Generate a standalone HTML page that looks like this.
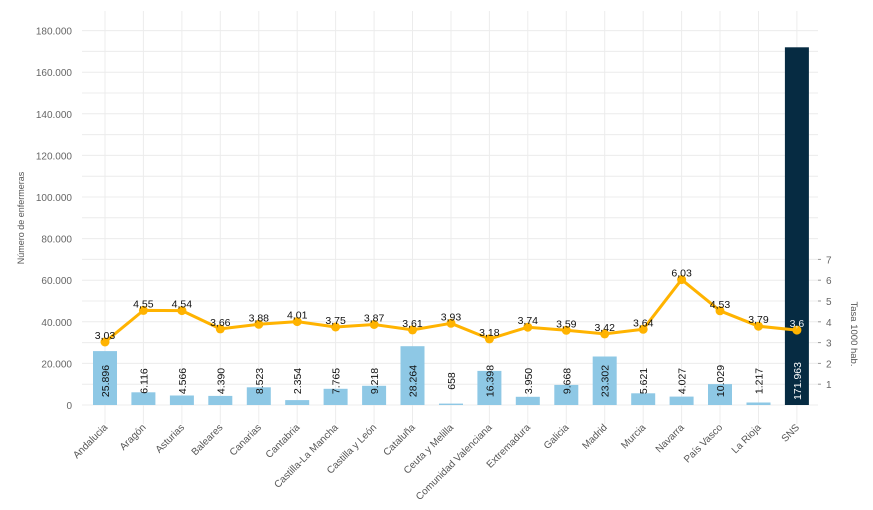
<!DOCTYPE html>
<html><head><meta charset="utf-8"><style>
html,body{margin:0;padding:0;background:#fff;}
svg{display:block;font-family:"Liberation Sans",sans-serif;}
.yl{font-size:10px;fill:#666;text-anchor:end;}
.xl{font-size:10px;fill:#555;text-anchor:end;}
.bl{font-size:10.5px;fill:#111;text-anchor:middle;}
.rl{font-size:10.5px;fill:#111;text-anchor:middle;}
</style></head><body>
<svg width="873" height="510" viewBox="0 0 873 510">
<g stroke="#ececec" stroke-width="1">
<line x1="82" x2="818" y1="405" y2="405"/><line x1="82" x2="818" y1="384.2" y2="384.2"/>
<line x1="82" x2="818" y1="363.4" y2="363.4"/><line x1="82" x2="818" y1="342.6" y2="342.6"/>
<line x1="82" x2="818" y1="321.8" y2="321.8"/><line x1="82" x2="818" y1="301" y2="301"/>
<line x1="82" x2="818" y1="280.2" y2="280.2"/><line x1="82" x2="818" y1="259.4" y2="259.4"/>
<line x1="82" x2="818" y1="238.6" y2="238.6"/><line x1="82" x2="818" y1="217.8" y2="217.8"/>
<line x1="82" x2="818" y1="197" y2="197"/><line x1="82" x2="818" y1="176.2" y2="176.2"/>
<line x1="82" x2="818" y1="155.4" y2="155.4"/><line x1="82" x2="818" y1="134.6" y2="134.6"/>
<line x1="82" x2="818" y1="113.8" y2="113.8"/><line x1="82" x2="818" y1="93" y2="93"/>
<line x1="82" x2="818" y1="72.2" y2="72.2"/><line x1="82" x2="818" y1="51.4" y2="51.4"/>
<line x1="82" x2="818" y1="30.6" y2="30.6"/>
<line x1="105" x2="105" y1="11" y2="424"/><line x1="143.4" x2="143.4" y1="11" y2="424"/>
<line x1="181.9" x2="181.9" y1="11" y2="424"/><line x1="220.3" x2="220.3" y1="11" y2="424"/>
<line x1="258.8" x2="258.8" y1="11" y2="424"/><line x1="297.2" x2="297.2" y1="11" y2="424"/>
<line x1="335.6" x2="335.6" y1="11" y2="424"/><line x1="374.1" x2="374.1" y1="11" y2="424"/>
<line x1="412.5" x2="412.5" y1="11" y2="424"/><line x1="451" x2="451" y1="11" y2="424"/>
<line x1="489.4" x2="489.4" y1="11" y2="424"/><line x1="527.8" x2="527.8" y1="11" y2="424"/>
<line x1="566.3" x2="566.3" y1="11" y2="424"/><line x1="604.7" x2="604.7" y1="11" y2="424"/>
<line x1="643.2" x2="643.2" y1="11" y2="424"/><line x1="681.6" x2="681.6" y1="11" y2="424"/>
<line x1="720" x2="720" y1="11" y2="424"/><line x1="758.5" x2="758.5" y1="11" y2="424"/>
<line x1="796.9" x2="796.9" y1="11" y2="424"/>
</g>
<g class="yl">
<text x="72" y="409">0</text><text x="72" y="367.4">20.000</text><text x="72" y="325.8">40.000</text>
<text x="72" y="284.2">60.000</text><text x="72" y="242.6">80.000</text><text x="72" y="201">100.000</text>
<text x="72" y="159.4">120.000</text><text x="72" y="117.8">140.000</text><text x="72" y="76.2">160.000</text>
<text x="72" y="34.6">180.000</text>
</g>
<text transform="translate(24,218) rotate(-90)" style="font-size:9px;fill:#555;text-anchor:middle">Número de enfermeras</text>
<g style="font-size:10px;fill:#666">
<text x="826" y="388">1</text><text x="826" y="367.4">2</text><text x="826" y="346.6">3</text>
<text x="826" y="325.8">4</text><text x="826" y="305">5</text><text x="826" y="284.2">6</text><text x="826" y="263.4">7</text>
</g>
<g stroke="#999" stroke-width="1">
<line x1="818" x2="821" y1="384.2" y2="384.2"/><line x1="818" x2="821" y1="363.4" y2="363.4"/>
<line x1="818" x2="821" y1="342.6" y2="342.6"/><line x1="818" x2="821" y1="321.8" y2="321.8"/>
<line x1="818" x2="821" y1="301" y2="301"/><line x1="818" x2="821" y1="280.2" y2="280.2"/>
<line x1="818" x2="821" y1="259.4" y2="259.4"/>
</g>
<text transform="translate(851,334) rotate(90)" style="font-size:9.5px;fill:#555;text-anchor:middle">Tasa 1000 hab.</text>
<g fill="#8ec8e5">
<rect x="93" y="351.1" width="24" height="53.9"/><rect x="131.4" y="392.3" width="24" height="12.7"/>
<rect x="169.9" y="395.5" width="24" height="9.5"/><rect x="208.3" y="395.9" width="24" height="9.1"/>
<rect x="246.8" y="387.3" width="24" height="17.7"/><rect x="285.2" y="400.1" width="24" height="4.9"/>
<rect x="323.6" y="388.8" width="24" height="16.2"/><rect x="362.1" y="385.8" width="24" height="19.2"/>
<rect x="400.5" y="346.2" width="24" height="58.8"/><rect x="439" y="403.6" width="24" height="1.4"/>
<rect x="477.4" y="370.9" width="24" height="34.1"/><rect x="515.8" y="396.8" width="24" height="8.2"/>
<rect x="554.3" y="384.9" width="24" height="20.1"/><rect x="592.7" y="356.5" width="24" height="48.5"/>
<rect x="631.2" y="393.3" width="24" height="11.7"/><rect x="669.6" y="396.6" width="24" height="8.4"/>
<rect x="708" y="384.1" width="24" height="20.9"/><rect x="746.5" y="402.5" width="24" height="2.5"/>
</g>
<rect x="784.9" y="47.3" width="24" height="357.7" fill="#062b42"/>
<g class="bl">
<text transform="translate(109,381) rotate(-90)">25.896</text>
<text transform="translate(147.4,381) rotate(-90)">6.116</text>
<text transform="translate(185.9,381) rotate(-90)">4.566</text>
<text transform="translate(224.3,381) rotate(-90)">4.390</text>
<text transform="translate(262.8,381) rotate(-90)">8.523</text>
<text transform="translate(301.2,381) rotate(-90)">2.354</text>
<text transform="translate(339.6,381) rotate(-90)">7.765</text>
<text transform="translate(378.1,381) rotate(-90)">9.218</text>
<text transform="translate(416.5,381) rotate(-90)">28.264</text>
<text transform="translate(455,381) rotate(-90)">658</text>
<text transform="translate(493.4,381) rotate(-90)">16.398</text>
<text transform="translate(531.8,381) rotate(-90)">3.950</text>
<text transform="translate(570.3,381) rotate(-90)">9.668</text>
<text transform="translate(608.7,381) rotate(-90)">23.302</text>
<text transform="translate(647.2,381) rotate(-90)">5.621</text>
<text transform="translate(685.6,381) rotate(-90)">4.027</text>
<text transform="translate(724,381) rotate(-90)">10.029</text>
<text transform="translate(762.5,381) rotate(-90)">1.217</text>
<text transform="translate(800.9,381) rotate(-90)" style="fill:#fff">171.963</text>
</g>
<polyline fill="none" stroke="#ffb300" stroke-width="3" stroke-linejoin="round" points="105,342 143.4,310.4 181.9,310.6 220.3,328.9 258.8,324.3 297.2,321.6 335.6,327 374.1,324.5 412.5,329.9 451,323.3 489.4,338.9 527.8,327.2 566.3,330.3 604.7,333.9 643.2,329.3 681.6,279.6 720,310.8 758.5,326.2 796.9,330.1"/>
<g fill="#ffb300">
<circle cx="105" cy="342" r="4.5"/><circle cx="143.4" cy="310.4" r="4.5"/><circle cx="181.9" cy="310.6" r="4.5"/>
<circle cx="220.3" cy="328.9" r="4.5"/><circle cx="258.8" cy="324.3" r="4.5"/><circle cx="297.2" cy="321.6" r="4.5"/>
<circle cx="335.6" cy="327" r="4.5"/><circle cx="374.1" cy="324.5" r="4.5"/><circle cx="412.5" cy="329.9" r="4.5"/>
<circle cx="451" cy="323.3" r="4.5"/><circle cx="489.4" cy="338.9" r="4.5"/><circle cx="527.8" cy="327.2" r="4.5"/>
<circle cx="566.3" cy="330.3" r="4.5"/><circle cx="604.7" cy="333.9" r="4.5"/><circle cx="643.2" cy="329.3" r="4.5"/>
<circle cx="681.6" cy="279.6" r="4.5"/><circle cx="720" cy="310.8" r="4.5"/><circle cx="758.5" cy="326.2" r="4.5"/>
<circle cx="796.9" cy="330.1" r="4.5"/>
</g>
<g class="rl">
<text x="105" y="339">3,03</text><text x="143.4" y="307.4">4,55</text><text x="181.9" y="307.6">4,54</text>
<text x="220.3" y="325.9">3,66</text><text x="258.8" y="321.3">3,88</text><text x="297.2" y="318.6">4,01</text>
<text x="335.6" y="324">3,75</text><text x="374.1" y="321.5">3,87</text><text x="412.5" y="326.9">3,61</text>
<text x="451" y="320.3">3,93</text><text x="489.4" y="335.9">3,18</text><text x="527.8" y="324.2">3,74</text>
<text x="566.3" y="327.3">3,59</text><text x="604.7" y="330.9">3,42</text><text x="643.2" y="326.3">3,64</text>
<text x="681.6" y="276.6">6,03</text><text x="720" y="307.8">4,53</text><text x="758.5" y="323.2">3,79</text>
<text x="796.9" y="327.1" style="fill:#e8eef2">3,6</text>
</g>
<g class="xl">
<text transform="translate(108,428) rotate(-45)">Andalucia</text>
<text transform="translate(146.4,428) rotate(-45)">Aragón</text>
<text transform="translate(184.9,428) rotate(-45)">Asturias</text>
<text transform="translate(223.3,428) rotate(-45)">Baleares</text>
<text transform="translate(261.8,428) rotate(-45)">Canarias</text>
<text transform="translate(300.2,428) rotate(-45)">Cantabria</text>
<text transform="translate(338.6,428) rotate(-45)">Castilla-La Mancha</text>
<text transform="translate(377.1,428) rotate(-45)">Castilla y León</text>
<text transform="translate(415.5,428) rotate(-45)">Cataluña</text>
<text transform="translate(454,428) rotate(-45)">Ceuta y Melilla</text>
<text transform="translate(492.4,428) rotate(-45)">Comunidad Valenciana</text>
<text transform="translate(530.8,428) rotate(-45)">Extremadura</text>
<text transform="translate(569.3,428) rotate(-45)">Galicia</text>
<text transform="translate(607.7,428) rotate(-45)">Madrid</text>
<text transform="translate(646.2,428) rotate(-45)">Murcia</text>
<text transform="translate(684.6,428) rotate(-45)">Navarra</text>
<text transform="translate(723,428) rotate(-45)">País Vasco</text>
<text transform="translate(761.5,428) rotate(-45)">La Rioja</text>
<text transform="translate(799.9,428) rotate(-45)">SNS</text>
</g>
</svg>
</body></html>
